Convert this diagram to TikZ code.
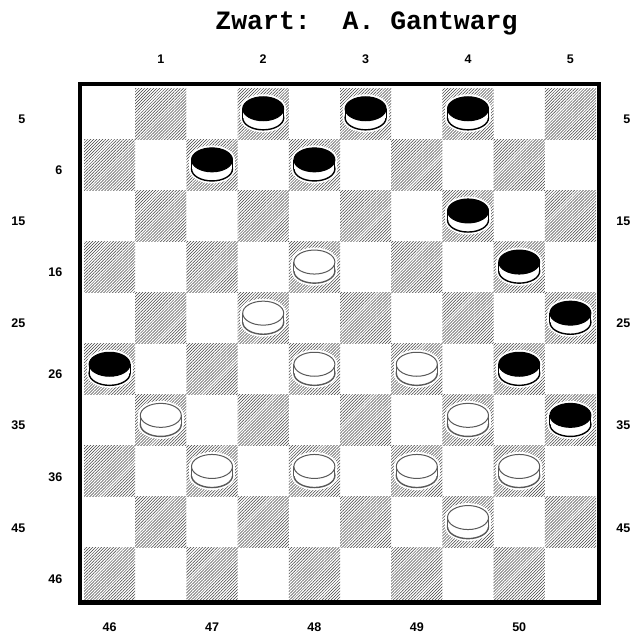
\documentclass[tikz,border=0pt]{standalone}
\usepackage{fontspec}
\setmainfont{Liberation Sans}
\newfontfamily\titlefont{Liberation Mono}
\usetikzlibrary{patterns.meta}
\newcommand\drawpiece[4]{%
  \pgfmathsetmacro\cx{84+(#1-0.5)*51.2}%
  \pgfmathsetmacro\cy{88+(#2-0.5)*51.1}%
  \pgfmathsetmacro\ty{\cy-4.8}%
  \pgfmathsetmacro\by{\cy+4.3}%
  \fill[white] (\cx,\by) ellipse [x radius=23, y radius=14.5];
  \fill[white] (\cx,\ty) ellipse [x radius=23, y radius=14.5];
  \fill[white] (\cx-23,\ty) rectangle (\cx+23,\by);
  \filldraw[fill=white,draw=#4,line width=1.4] (\cx,\by) ellipse [x radius=20.5, y radius=12];
  \fill[white] (\cx-20.5,\ty) rectangle (\cx+20.5,\by);
  \draw[#4,line width=1] (\cx-20.5,\ty) -- (\cx-20.5,\by) (\cx+20.5,\ty) -- (\cx+20.5,\by);
  \filldraw[fill=#3,draw=#4,line width=1] (\cx,\ty) ellipse [x radius=20.5, y radius=12];
}
\begin{document}
\frenchspacing
\begin{tikzpicture}[x=1pt,y=-1pt,
  hatch/.style={pattern={Lines[angle=45,distance=2.1pt,line width=0.5pt]},pattern color=black!75},
  lab/.style={font=\fontsize{12.5}{12.5}\selectfont\bfseries, inner sep=0pt},
  ttl/.style={font=\titlefont\fontsize{26.5}{26.5}\selectfont\bfseries, inner sep=0pt, anchor=base}]
\useasboundingbox (0,0) rectangle (630,634);
\fill[white] (0,0) rectangle (630,634);
% board squares
\foreach \r in {1,...,10}{\foreach \c in {1,...,10}{
  \pgfmathtruncatemacro\odd{mod(\r+\c,2)}
  \ifnum\odd=1 \fill[hatch] ({84+(\c-1)*51.2},{88+(\r-1)*51.1}) rectangle ++(51.2,51.1); \fi
}}
% border
\draw[line width=4.2] (80,84.3) rectangle (599.3,602.5);
% black pieces
\foreach \c/\r in {4/1,6/1,8/1,3/2,5/2,8/3,9/4,10/5,1/6,9/6,10/7}
  {\drawpiece{\c}{\r}{black}{black}}
% white pieces
\foreach \c/\r in {5/4,4/5,5/6,7/6,2/7,8/7,3/8,5/8,7/8,9/8,8/9}
  {\drawpiece{\c}{\r}{white}{black!65}}
% title
\node[ttl] (title) at (366.5,30) {Zwart:~~A.~Gantwarg};
% labels
\foreach \i in {1,...,5}
  \node[lab] (top\i) at ({84+(2*\i-0.5)*51.2},59) {\i};
\foreach \i/\n in {1/46,2/47,3/48,4/49,5/50}
  \node[lab] (bot\n) at ({84+(2*\i-1.5)*51.2},627.5) {\n};
\foreach \r/\n in {1/5,3/15,5/25,7/35,9/45}{
  \node[lab,anchor=east] (left\n) at (25.5,{119+(\r-1)*51.1}) {\n};
  \node[lab,anchor=east] (right\n) at (630.5,{119+(\r-1)*51.1}) {\n};
}
\foreach \r/\n in {2/6,4/16,6/26,8/36,10/46}
  \node[lab,anchor=east] (left\n) at (62.5,{119+(\r-1)*51.1}) {\n};
\end{tikzpicture}
\end{document}
